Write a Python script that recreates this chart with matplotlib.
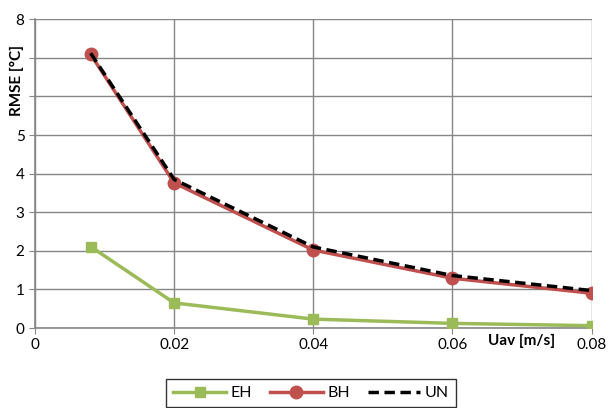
import matplotlib.pyplot as plt

uav = [0.008, 0.02, 0.04, 0.06, 0.08]
eh = [2.11, 0.65, 0.23, 0.12, 0.06]
bh = [7.09, 3.76, 2.02, 1.29, 0.90]
un = [7.12, 3.85, 2.10, 1.36, 0.97]

xticks = [0, 0.02, 0.04, 0.06, 0.08]
xticklabels = ['0', '0.02', '0.04', '0.06', '0.08']
yticks = [0, 1, 2, 3, 4, 5, 6, 7, 8]
# 6 and 7 sit under the axis title in the original
yticklabels = ['0', '1', '2', '3', '4', '5', '', '', '8']

plt.rcParams['font.family'] = ['Lato', 'DejaVu Sans']

fig = plt.figure(figsize=(6.09, 4.08), dpi=100)
ax = fig.add_axes([35 / 609, 1 - 328 / 408, 556.5 / 609, 308.8 / 408])

ax.plot(uav, eh, color='#9BBB59', lw=2.5, marker='s', ms=7, label='EH', zorder=3)
ax.plot(uav, bh, color='#C0504D', lw=2.5, marker='o', ms=9, label='BH', zorder=4)
ax.plot(uav, un, color='black', lw=2.5, ls=(0, (3, 1.6)), label='UN', zorder=5)

ax.set_xlim(0, 0.08)
ax.set_ylim(0, 8)
ax.set_xticks(xticks)
ax.set_xticklabels(xticklabels)
ax.set_yticks(yticks)
ax.set_yticklabels(yticklabels)
ax.grid(True, color='#868686', lw=1)
ax.set_axisbelow(True)
for s in ['top', 'right']:
    ax.spines[s].set_visible(False)
for s in ['left', 'bottom']:
    ax.spines[s].set_color('#868686')
    ax.spines[s].set_linewidth(1.2)
ax.tick_params(colors='#868686', labelcolor='black', labelsize=11, length=4)

ax.text(-0.033, 0.80, 'RMSE [°C]', transform=ax.transAxes, rotation=90,
        ha='center', va='center', fontsize=11, fontweight='bold')
ax.text(0.935, -0.02, 'Uav [m/s]', transform=ax.transAxes, ha='right', va='top',
        fontsize=11, fontweight='bold')

leg = fig.legend(loc='lower center', bbox_to_anchor=(0.511, -0.018), ncol=3,
                 frameon=True, fancybox=False, edgecolor='black', fontsize=11.5,
                 handlelength=3.3, columnspacing=1.1, handletextpad=0.3,
                 borderpad=0.45, numpoints=1)
leg.get_frame().set_linewidth(1)

fig.savefig('out.png', dpi=100)
